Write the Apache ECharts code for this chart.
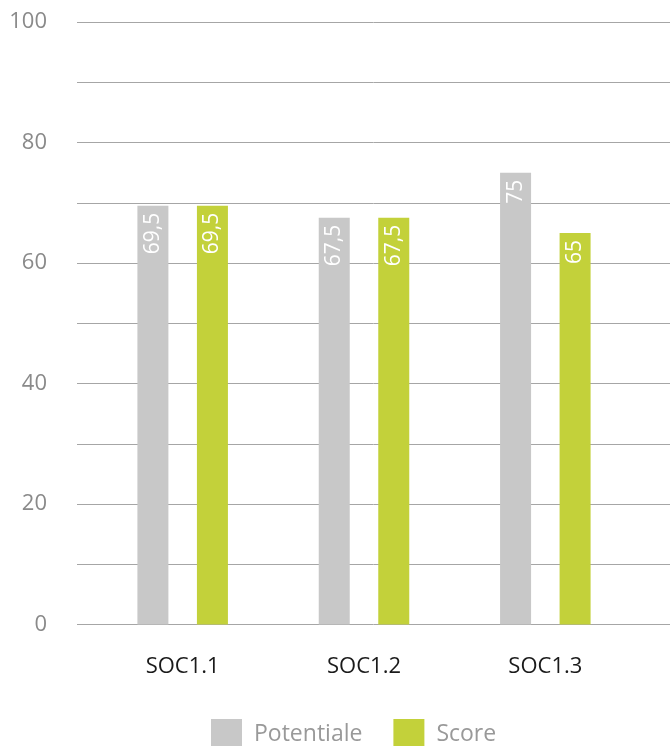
<!DOCTYPE html>
<html>
<head>
<meta charset="utf-8">
<script src="https://cdn.jsdelivr.net/npm/echarts@6/dist/echarts.min.js"></script>
<style>
  html, body { margin: 0; padding: 0; background: #ffffff; }
  #chart { width: 670px; height: 746px; }
</style>
</head>
<body>
<div id="chart"></div>
<script>
// Categories and series values
const categories = ['SOC1.1', 'SOC1.2', 'SOC1.3'];
const potentiale = [69.5, 67.5, 75];
const score = [69.5, 67.5, 65];
const seriesNames = ['Potentiale', 'Score'];

const FONT = '"Open Sans", "Noto Sans", sans-serif';
const fmtComma = (v) => String(v).replace('.', ',');

const chart = echarts.init(document.getElementById('chart'), null, { renderer: 'canvas' });

const barLabel = {
  show: true,
  position: 'insideTop',
  rotate: 90,
  align: 'right',
  verticalAlign: 'middle',
  distance: 7,
  color: '#ffffff',
  fontFamily: FONT,
  fontSize: 21,
  formatter: (p) => fmtComma(p.value)
};

chart.setOption({
  backgroundColor: '#ffffff',
  animation: false,
  legend: {
    data: seriesNames,
    top: 719,
    left: 211,
    padding: 0,
    itemWidth: 31,
    itemHeight: 31,
    itemGap: 31,
    icon: 'rect',
    textStyle: { color: '#999999', fontFamily: FONT, fontSize: 23, padding: [0, 0, 0, 7] }
  },
  grid: [
    // wide grid carrying the value gridlines and labels
    { left: 77, right: 0, top: 22, bottom: 121.5, containLabel: false },
    // bar area
    { left: 92, right: 34, top: 22, bottom: 121.5, containLabel: false }
  ],
  xAxis: [
    { type: 'category', gridIndex: 0, data: categories, show: false },
    {
      type: 'category',
      gridIndex: 1,
      data: categories,
      axisLine: { show: false },
      axisTick: { show: false },
      axisLabel: { color: '#1a1a1a', fontFamily: FONT, fontSize: 22, margin: 31 }
    }
  ],
  yAxis: [
    {
      type: 'value',
      gridIndex: 0,
      min: 0,
      max: 100,
      interval: 10,
      axisLine: { show: false },
      axisTick: { show: false },
      splitLine: { lineStyle: { color: '#a6a6a6', width: 1 } },
      axisLabel: {
        color: '#8a8a8a',
        fontFamily: FONT,
        fontSize: 22,
        margin: 30,
        formatter: (v) => (v % 20 === 0 ? String(v) : '')
      }
    },
    {
      type: 'value',
      gridIndex: 1,
      min: 0,
      max: 100,
      interval: 10,
      show: false,
      splitLine: { show: false }
    }
  ],
  series: [
    {
      name: seriesNames[0],
      type: 'bar',
      xAxisIndex: 1,
      yAxisIndex: 1,
      data: potentiale,
      barWidth: 31,
      barGap: '92%',
      itemStyle: { color: '#c8c8c8' },
      label: barLabel
    },
    {
      name: seriesNames[1],
      type: 'bar',
      xAxisIndex: 1,
      yAxisIndex: 1,
      data: score,
      barWidth: 31,
      barGap: '92%',
      itemStyle: { color: '#c3d13a' },
      label: barLabel
    }
  ]
});
</script>
</body>
</html>
